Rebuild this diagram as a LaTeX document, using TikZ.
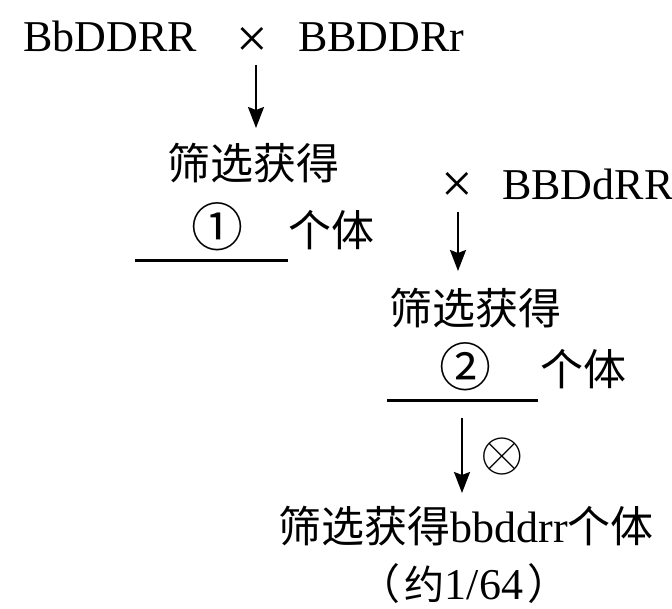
\documentclass[tikz,border=0pt]{standalone}
\usepackage{graphicx}
\usepackage{fontspec}
\setmainfont{Liberation Serif}
\newfontfamily\cjk{Noto Sans CJK SC}
\usetikzlibrary{arrows.meta}
\tikzset{
  lat/.style={inner sep=0pt, font=\fontsize{44}{48}\selectfont},
  times/.style={inner sep=0pt, font=\fontsize{56}{60}\selectfont},
  han/.style={inner sep=0pt, font=\cjk\fontsize{43}{48}\selectfont},
  circ/.style={inner sep=0pt, font=\cjk\fontsize{52}{56}\selectfont},
  arr/.style={line width=2pt, -{Stealth[length=21pt,width=16pt,inset=3pt]}},
  uline/.style={line width=3pt}
}
\begin{document}
\begin{tikzpicture}[x=1pt,y=-1pt]
\useasboundingbox (0,0) rectangle (672,609);
% line 1
\node[lat,anchor=base west] (p1) at (23,52) {BbDDRR};
\node[times] (x1) at (252,42) {×};
\node[lat,anchor=base west] (p2) at (298,52) {BBDDRr};
\coordinate (a1s) at (256,65);
\coordinate (a1e) at (256,128);
\draw[arr] (a1s) -- (a1e);
% first selection
\node[han] (r1) at (253,163) {筛选获得};
\node[circ] (c1) at (217,227) {①};
\node[han] (g1) at (331,230) {个体};
\coordinate (u1a) at (135,261);
\coordinate (u1b) at (288,261);
\draw[uline] (u1a) -- (u1b);
% second cross
\node[times] (x2) at (457,187) {×};
\node[lat,anchor=base west] (p3) at (502,200) {BBDdRR};
\coordinate (a2s) at (458,212);
\coordinate (a2e) at (458,271);
\draw[arr] (a2s) -- (a2e);
% second selection
\node[han] (r2) at (475,308) {筛选获得};
\node[circ] (c2) at (465,367) {②};
\node[han] (g2) at (583,369) {个体};
\coordinate (u2a) at (387,401);
\coordinate (u2b) at (538,401);
\draw[uline] (u2a) -- (u2b);
% selfing
\coordinate (a3s) at (462,418);
\coordinate (a3e) at (462,493);
\draw[arr] (a3s) -- (a3e);
\node[inner sep=0pt] (ot) at (502,456) {\scalebox{5.6}{$\otimes$}};
% result
\node[inner sep=0pt] (r3) at (466,526) {{\cjk\fontsize{43}{48}\selectfont 筛选获得}{\fontsize{44}{48}\selectfont bbddrr}{\cjk\fontsize{43}{48}\selectfont 个体}};
\node[inner sep=0pt] (fr) at (464,584) {{\cjk\fontsize{42}{46}\selectfont （}\hspace{4pt}{\cjk\fontsize{40}{46}\selectfont 约}{\fontsize{44}{48}\selectfont 1/64}\hspace{4pt}{\cjk\fontsize{42}{46}\selectfont ）}};
\end{tikzpicture}
\end{document}
